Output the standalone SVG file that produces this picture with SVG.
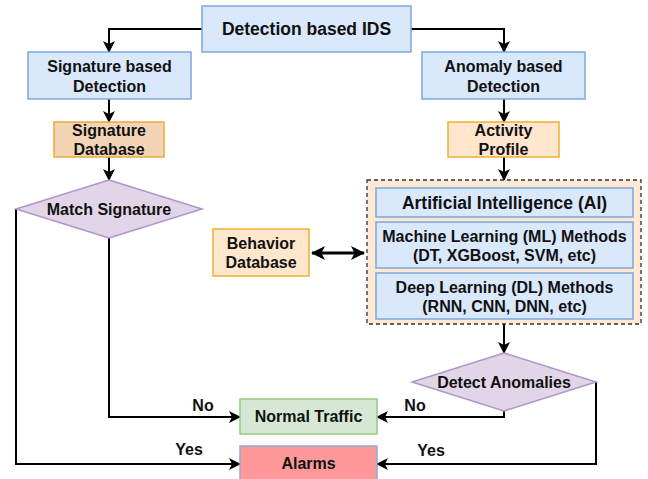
<svg xmlns="http://www.w3.org/2000/svg" width="648" height="479" viewBox="0 0 648 479">
<defs>
<style>
text{font-family:"Liberation Sans",Arial,Helvetica,sans-serif;font-weight:bold;font-size:16px;fill:#111;text-anchor:middle}
.t{font-size:17.5px}
.blue{fill:#dae8fc;stroke:#7ea6e0;stroke-width:1.5}
.orange{fill:#ffe6cc;stroke:#f0b030;stroke-width:1.5}
.tan{fill:#f3d5b6;stroke:#e8aa3a;stroke-width:1.5}
.purple{fill:#e1d5e7;stroke:#ae94c8;stroke-width:1.5}
.green{fill:#d5e8d4;stroke:#97c77e;stroke-width:1.5}
.red{fill:#ff9999;stroke:#8eaadb;stroke-width:1.5}
.cont{fill:#ffe9d3;stroke:#333;stroke-width:1.3;stroke-dasharray:4 3}
.c{fill:none;stroke:#000;stroke-width:2}
.c2{fill:none;stroke:#000;stroke-width:3}
</style>
<marker id="ah" viewBox="0 0 12 12" refX="11" refY="6" markerWidth="12" markerHeight="12" markerUnits="userSpaceOnUse" orient="auto">
<path d="M0,0 L12,6 L0,12 L3,6 z" fill="#000"/>
</marker>
<marker id="ah2" viewBox="0 0 14 14" refX="13" refY="7" markerWidth="14" markerHeight="14" markerUnits="userSpaceOnUse" orient="auto-start-reverse">
<path d="M0,0 L14,7 L0,14 L3.5,7 z" fill="#000"/>
</marker>
</defs>

<g id="connectors">
<path class="c" d="M202,29 H109 V52" marker-end="url(#ah)"/>
<path class="c" d="M411,29 H504 V52" marker-end="url(#ah)"/>
<path class="c" d="M109,99 V122" marker-end="url(#ah)"/>
<path class="c" d="M504,99 V122" marker-end="url(#ah)"/>
<path class="c" d="M109,157 V180" marker-end="url(#ah)"/>
<path class="c" d="M504,157 V180" marker-end="url(#ah)"/>
<path class="c2" d="M312,253 H364" marker-start="url(#ah2)" marker-end="url(#ah2)"/>
<path class="c" d="M504,324 V353" marker-end="url(#ah)"/>
<path class="c" d="M109,238 V417 H240" marker-end="url(#ah)"/>
<path class="c" d="M504,411 V417 H377" marker-end="url(#ah)"/>
<path class="c" d="M16,209 V464 H240" marker-end="url(#ah)"/>
<path class="c" d="M596,382 V464 H377" marker-end="url(#ah)"/>
<text x="203" y="411">No</text>
<text x="415" y="411">No</text>
<text x="189" y="455">Yes</text>
<text x="431" y="456">Yes</text>
</g>

<g id="ids">
<rect class="blue" x="202" y="6" width="209" height="46"/>
<text class="t" x="306.5" y="35">Detection based IDS</text>
</g>
<g id="signature-detection">
<rect class="blue" x="28" y="52" width="163" height="47"/>
<text x="109.5" y="72">Signature based</text>
<text x="109.5" y="92">Detection</text>
</g>
<g id="anomaly-detection">
<rect class="blue" x="422" y="52" width="163" height="47"/>
<text x="503.5" y="72">Anomaly based</text>
<text x="503.5" y="92">Detection</text>
</g>
<g id="signature-database">
<rect class="tan" x="54" y="122" width="110" height="35"/>
<text x="109" y="136">Signature</text>
<text x="109" y="155">Database</text>
</g>
<g id="activity-profile">
<rect class="orange" x="448" y="122" width="111" height="35"/>
<text x="503.5" y="136">Activity</text>
<text x="503.5" y="155">Profile</text>
</g>
<g id="match-signature">
<polygon class="purple" points="109,180 202,209 109,238 16,209"/>
<text x="109" y="215">Match Signature</text>
</g>
<g id="behavior-database">
<rect class="orange" x="213" y="229" width="96" height="47"/>
<text x="261" y="249">Behavior</text>
<text x="261" y="268">Database</text>
</g>
<g id="ai-container">
<rect class="cont" x="367" y="180" width="274" height="144"/>
<g id="ai">
<rect class="blue" x="376" y="188" width="257" height="29"/>
<text class="t" x="504.5" y="209">Artificial Intelligence (AI)</text>
</g>
<g id="ml">
<rect class="blue" x="376" y="222" width="257" height="46"/>
<text x="504.5" y="242">Machine Learning (ML) Methods</text>
<text x="504.5" y="261">(DT, XGBoost, SVM, etc)</text>
</g>
<g id="dl">
<rect class="blue" x="376" y="273" width="257" height="46"/>
<text x="504.5" y="293">Deep Learning (DL) Methods</text>
<text x="504.5" y="312">(RNN, CNN, DNN, etc)</text>
</g>
</g>
<g id="detect-anomalies">
<polygon class="purple" points="504,353 596,382 504,411 412,382"/>
<text x="504" y="388">Detect Anomalies</text>
</g>
<g id="normal-traffic">
<rect class="green" x="240" y="399" width="137" height="35"/>
<text x="308.5" y="422">Normal Traffic</text>
</g>
<g id="alarms">
<rect class="red" x="240" y="446" width="137" height="40"/>
<text x="308.5" y="469">Alarms</text>
</g>
</svg>
